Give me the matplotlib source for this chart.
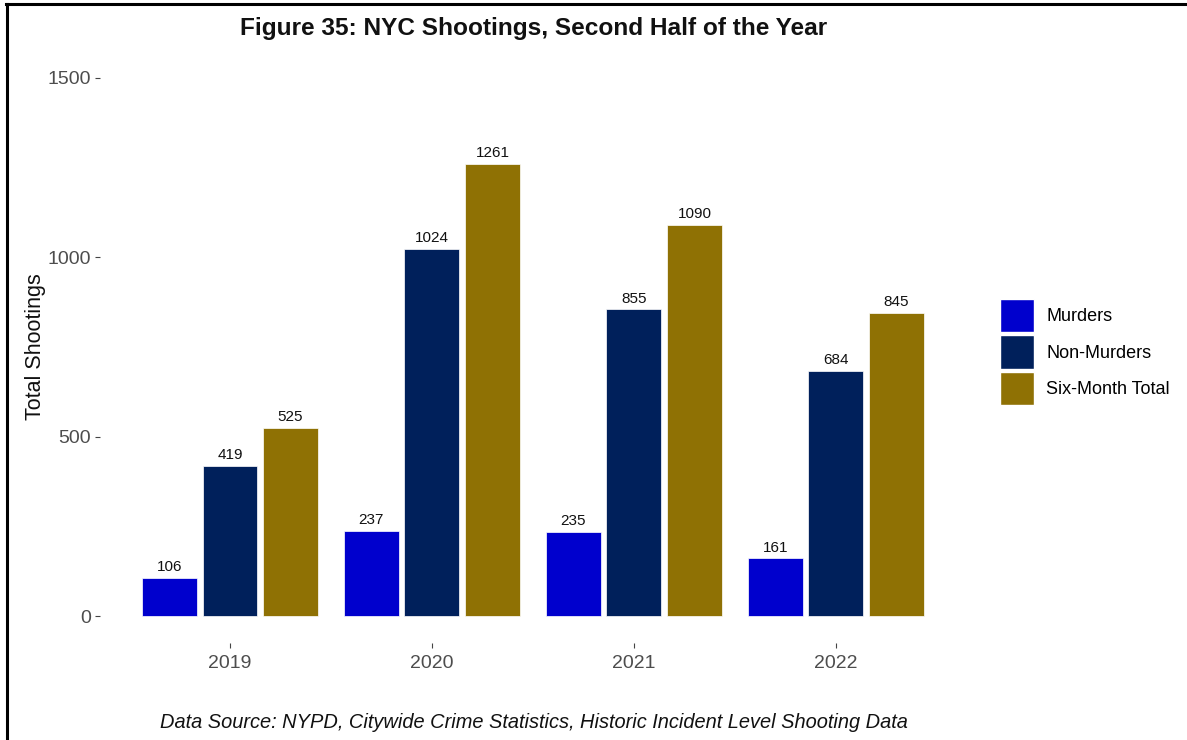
import matplotlib
matplotlib.use("Agg")
import matplotlib.pyplot as plt
import numpy as np
from matplotlib.lines import Line2D
from matplotlib.patches import Patch

years = ["2019", "2020", "2021", "2022"]
series = ["Murders", "Non-Murders", "Six-Month Total"]
murders = [106, 237, 235, 161]
non_murders = [419, 1024, 855, 684]
six_month_total = [525, 1261, 1090, 845]
colors = ["#0000CD", "#00205B", "#8F7104"]
yticks = [0, 500, 1000, 1500]

plt.rcParams['font.family'] = ['Liberation Sans', 'DejaVu Sans']

W, H = 1187, 740
fig = plt.figure(figsize=(W / 100, H / 100), dpi=100)
left, right, top, bottom = 100, 957, 51, 643
ax = fig.add_axes([left / W, 1 - bottom / H, (right - left) / W, (bottom - top) / H])

x = np.arange(1, len(years) + 1)
slot = 0.30
barw = 0.272
vals = [murders, non_murders, six_month_total]
for i, (name, v, c) in enumerate(zip(series, vals, colors)):
    pos = x + (i - 1) * slot
    ax.bar(pos, v, width=barw, color=c, edgecolor="white", linewidth=0.5, label=name)
    for p, val in zip(pos, v):
        ax.text(p, val + 10, str(val), ha="center", va="bottom", fontsize=11, color="#111111")

ax.set_xlim(1 - 130 / 202, 4.6)
ax.set_ylim(-75, 1575)
ax.set_xticks(x)
ax.set_xticklabels(years)
ax.set_yticks(yticks)
ax.set_yticklabels([str(t) for t in yticks])
for s in ax.spines.values():
    s.set_visible(False)
ax.tick_params(axis="both", colors="#444444", labelcolor="#4d4d4d", labelsize=14, length=3.5, width=0.8)
ax.tick_params(axis="x", pad=5)
ax.tick_params(axis="y", pad=3)
ax.set_ylabel("Total Shootings", fontsize=15.5, color="#111111", labelpad=1)

fig.text(534 / W, 1 - 28 / H, "Figure 35: NYC Shootings, Second Half of the Year", fontsize=17.6,
         fontweight="bold", color="#111111", ha="center", va="center")

handles = [Patch(facecolor=c, edgecolor="white", label=n) for n, c in zip(series, colors)]
fig.legend(handles=handles, loc="center left", bbox_to_anchor=(1000 / W, 1 - 352 / H), frameon=False,
           fontsize=13, handlelength=1.9, handleheight=2.44, handletextpad=0.65, labelspacing=0.17,
           borderaxespad=0, borderpad=0)

fig.text(534 / W, 1 - 722 / H, "Data Source: NYPD, Citywide Crime Statistics, Historic Incident Level Shooting Data",
         ha="center", va="center", fontsize=14.4, style="italic", color="#111111")

fig.add_artist(Line2D([7 / W, 7 / W], [0, 1 - 4 / H], color="black", lw=2.2, transform=fig.transFigure))
fig.add_artist(Line2D([6 / W, 1], [1 - 4 / H, 1 - 4 / H], color="black", lw=2.2, transform=fig.transFigure))

fig.savefig("out.png", dpi=100)
